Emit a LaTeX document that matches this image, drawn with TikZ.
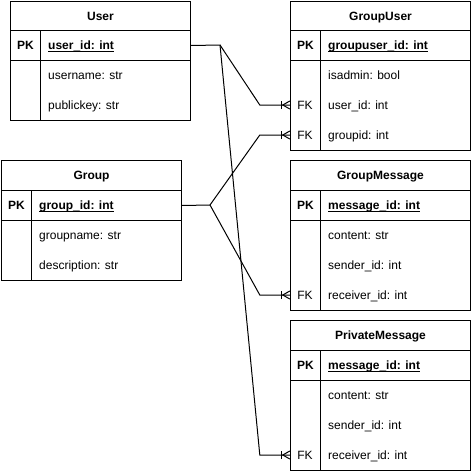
\documentclass[tikz,border=0pt]{standalone}
\usepackage{fontspec}
\setmainfont{Liberation Sans}
\usetikzlibrary{calc}

% bold primary-key field with a rule just under the baseline
\newcommand\pkfield[1]{\setbox0\hbox{\bfseries #1}\rlap{\vrule height -1.5pt depth 2.5pt width \wd0}\box0}

\begin{document}
\begin{tikzpicture}[x=1pt,y=-1pt,
  font=\fontsize{12pt}{14pt}\selectfont,
  every node/.style={text height=9pt, text depth=1pt},
  frame/.style={draw=black, line width=1pt, inner sep=0pt, anchor=north west},
  keytext/.style={inner sep=0pt, minimum width=30pt},
  fieldtext/.style={anchor=west, inner sep=0pt},
  conn/.style={draw=black, line width=1pt},
  crowfoot/.style={draw=black, line width=1pt}
]
\useasboundingbox (0,0) rectangle (471,471);

% ---------- User ----------
\node[frame, minimum width=180pt, minimum height=29pt] (user) at (10,1) {\bfseries User};
\node[frame, minimum width=30pt, minimum height=30pt] (user-pkkey) at (10,30) {\bfseries PK};
\node[frame, minimum width=150pt, minimum height=30pt] (user-pk) at (40,30) {};
\node[fieldtext] (user-pkname) at (48,45) {\pkfield{user\_id: int}};
\node[frame, minimum width=30pt, minimum height=60pt] (user-keys) at (10,60) {};
\node[frame, minimum width=150pt, minimum height=60pt] (user-fields) at (40,60) {};
\node[fieldtext] (user-f1) at (48,75) {username: str};
\node[fieldtext] (user-f2) at (48,105) {publickey: str};

% ---------- GroupUser ----------
\node[frame, minimum width=180pt, minimum height=29pt] (gu) at (290,1) {\bfseries GroupUser};
\node[frame, minimum width=30pt, minimum height=30pt] (gu-pkkey) at (290,30) {\bfseries PK};
\node[frame, minimum width=150pt, minimum height=30pt] (gu-pk) at (320,30) {};
\node[fieldtext] (gu-pkname) at (328,45) {\pkfield{groupuser\_id: int}};
\node[frame, minimum width=30pt, minimum height=90pt] (gu-keys) at (290,60) {};
\node[frame, minimum width=150pt, minimum height=90pt] (gu-fields) at (320,60) {};
\node[fieldtext] (gu-f1) at (328,75) {isadmin: bool};
\node[keytext] (gu-fk1) at (305,105) {FK};
\node[fieldtext] (gu-f2) at (328,105) {user\_id: int};
\node[keytext] (gu-fk2) at (305,135) {FK};
\node[fieldtext] (gu-f3) at (328,135) {groupid: int};

% ---------- Group ----------
\node[frame, minimum width=180pt, minimum height=30pt] (group) at (1,160) {\bfseries Group};
\node[frame, minimum width=30pt, minimum height=30pt] (group-pkkey) at (1,190) {\bfseries PK};
\node[frame, minimum width=150pt, minimum height=30pt] (group-pk) at (31,190) {};
\node[fieldtext] (group-pkname) at (39,205) {\pkfield{group\_id: int}};
\node[frame, minimum width=30pt, minimum height=60pt] (group-keys) at (1,220) {};
\node[frame, minimum width=150pt, minimum height=60pt] (group-fields) at (31,220) {};
\node[fieldtext] (group-f1) at (39,235) {groupname: str};
\node[fieldtext] (group-f2) at (39,265) {description: str};

% ---------- GroupMessage ----------
\node[frame, minimum width=180pt, minimum height=30pt] (gm) at (290,160) {\bfseries GroupMessage};
\node[frame, minimum width=30pt, minimum height=30pt] (gm-pkkey) at (290,190) {\bfseries PK};
\node[frame, minimum width=150pt, minimum height=30pt] (gm-pk) at (320,190) {};
\node[fieldtext] (gm-pkname) at (328,205) {\pkfield{message\_id: int}};
\node[frame, minimum width=30pt, minimum height=90pt] (gm-keys) at (290,220) {};
\node[frame, minimum width=150pt, minimum height=90pt] (gm-fields) at (320,220) {};
\node[fieldtext] (gm-f1) at (328,235) {content: str};
\node[fieldtext] (gm-f2) at (328,265) {sender\_id: int};
\node[keytext] (gm-fk) at (305,295) {FK};
\node[fieldtext] (gm-f3) at (328,295) {receiver\_id: int};

% ---------- PrivateMessage ----------
\node[frame, minimum width=180pt, minimum height=30pt] (pm) at (290,320) {\bfseries PrivateMessage};
\node[frame, minimum width=30pt, minimum height=30pt] (pm-pkkey) at (290,350) {\bfseries PK};
\node[frame, minimum width=150pt, minimum height=30pt] (pm-pk) at (320,350) {};
\node[fieldtext] (pm-pkname) at (328,365) {\pkfield{message\_id: int}};
\node[frame, minimum width=30pt, minimum height=90pt] (pm-keys) at (290,380) {};
\node[frame, minimum width=150pt, minimum height=90pt] (pm-fields) at (320,380) {};
\node[fieldtext] (pm-f1) at (328,395) {content: str};
\node[fieldtext] (pm-f2) at (328,425) {sender\_id: int};
\node[keytext] (pm-fk) at (305,455) {FK};
\node[fieldtext] (pm-f3) at (328,455) {receiver\_id: int};

% ---------- relationships ----------
\coordinate (uj) at (220,45);
\coordinate (gj) at (210,205);
\draw[conn] (user-pk.east) -- (uj) -- ([xshift=-30pt]gu-fk1.west) -- (gu-fk1.west);
\draw[conn] (uj) -- ([xshift=-30pt]pm-fk.west) -- (pm-fk.west);
\draw[conn] (group-pk.east) -- (gj) -- ([xshift=-30pt]gu-fk2.west) -- (gu-fk2.west);
\draw[conn] (gj) -- ([xshift=-30pt]gm-fk.west) -- (gm-fk.west);

% one-or-many ends
\foreach \n in {gu-fk1, gu-fk2, gm-fk, pm-fk} {
  \draw[crowfoot] ([shift={(-8,-4)}]\n.west) -- ([shift={(-8,4)}]\n.west);
  \draw[crowfoot] ([shift={(0,-4)}]\n.west) -- ([shift={(-7,0)}]\n.west) -- ([shift={(0,4)}]\n.west);
}
\end{tikzpicture}
\end{document}
